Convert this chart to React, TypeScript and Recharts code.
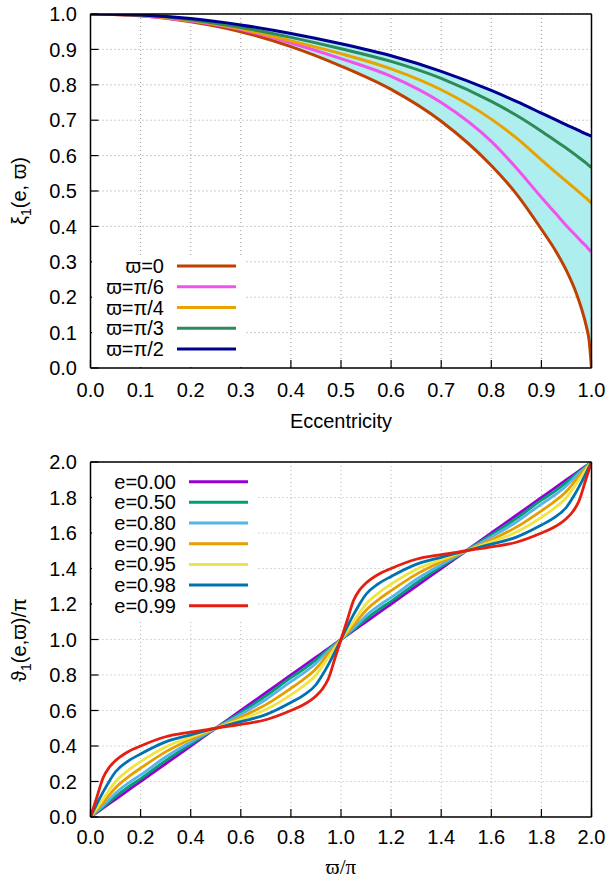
import React from "react";
import { ComposedChart, LineChart, Line, Area, XAxis, YAxis, CartesianGrid, Legend } from "recharts";

// ---- top panel: xi_1(e, varpi) vs eccentricity ----
const ecc = [0, 0.1, 0.2, 0.3, 0.4, 0.5, 0.6, 0.7, 0.8, 0.85, 0.9, 0.93, 0.95, 0.97, 0.98, 0.99, 0.995, 1.0];
const xiW0 = [1, 0.995, 0.978, 0.95, 0.908, 0.853, 0.787, 0.697, 0.572, 0.492, 0.392, 0.327, 0.275, 0.21, 0.168, 0.116, 0.08, 0];
const xiW6 = [1, 0.995, 0.98, 0.956, 0.918, 0.874, 0.824, 0.75, 0.64, 0.565, 0.482, 0.434, 0.402, 0.372, 0.357, 0.343, 0.335, 0.328];
const xiW4 = [1, 0.996, 0.982, 0.958, 0.924, 0.888, 0.845, 0.786, 0.703, 0.65, 0.588, 0.551, 0.527, 0.503, 0.491, 0.479, 0.472, 0.466];
const xiW3 = [1, 0.997, 0.984, 0.962, 0.934, 0.902, 0.866, 0.818, 0.753, 0.714, 0.669, 0.64, 0.621, 0.6, 0.589, 0.578, 0.572, 0.566];
const xiW2 = [1, 0.997, 0.987, 0.969, 0.945, 0.916, 0.882, 0.838, 0.784, 0.753, 0.72, 0.7, 0.687, 0.674, 0.667, 0.661, 0.658, 0.655];

const omegaKeys = ["w0", "w6", "w4", "w3", "w2"];
const omegaLabels = ["ϖ=0", "ϖ=π/6", "ϖ=π/4", "ϖ=π/3", "ϖ=π/2"];
const omegaColors = ["#c04000", "#f252ec", "#e9a200", "#2e8b57", "#000090"];

const eccTicks = [0, 0.1, 0.2, 0.3, 0.4, 0.5, 0.6, 0.7, 0.8, 0.9, 1.0];
const xiTicks = [0, 0.1, 0.2, 0.3, 0.4, 0.5, 0.6, 0.7, 0.8, 0.9, 1.0];

// ---- bottom panel: vartheta_1(e, varpi)/pi vs varpi/pi ----
const phase = [0, 0.025, 0.05, 0.075, 0.1, 0.15, 0.2, 0.3, 0.4, 0.5, 0.6, 0.7, 0.8, 0.85, 0.9, 0.925, 0.95, 0.975, 1.0,
  1.025, 1.05, 1.075, 1.1, 1.15, 1.2, 1.3, 1.4, 1.5, 1.6, 1.7, 1.8, 1.85, 1.9, 1.925, 1.95, 1.975, 2.0];
const thE000 = [0, 0.025, 0.05, 0.075, 0.1, 0.15, 0.2, 0.3, 0.4, 0.5, 0.6, 0.7, 0.8, 0.85, 0.9, 0.925, 0.95, 0.975, 1.0,
  1.025, 1.05, 1.075, 1.1, 1.15, 1.2, 1.3, 1.4, 1.5, 1.6, 1.7, 1.8, 1.85, 1.9, 1.925, 1.95, 1.975, 2.0];
const thE050 = [0, 0.028, 0.056, 0.085, 0.115, 0.168, 0.215, 0.318, 0.411, 0.5, 0.589, 0.682, 0.785, 0.832, 0.885, 0.915, 0.944, 0.972, 1.0,
  1.028, 1.056, 1.085, 1.115, 1.168, 1.215, 1.318, 1.411, 1.5, 1.589, 1.682, 1.785, 1.832, 1.885, 1.915, 1.944, 1.972, 2.0];
const thE080 = [0, 0.032, 0.064, 0.098, 0.134, 0.19, 0.237, 0.338, 0.422, 0.5, 0.578, 0.662, 0.763, 0.81, 0.866, 0.902, 0.936, 0.968, 1.0,
  1.032, 1.064, 1.098, 1.134, 1.19, 1.237, 1.338, 1.422, 1.5, 1.578, 1.662, 1.763, 1.81, 1.866, 1.902, 1.936, 1.968, 2.0];
const thE090 = [0, 0.04, 0.08, 0.123, 0.165, 0.225, 0.275, 0.367, 0.438, 0.5, 0.562, 0.633, 0.725, 0.775, 0.835, 0.877, 0.92, 0.96, 1.0,
  1.04, 1.08, 1.123, 1.165, 1.225, 1.275, 1.367, 1.438, 1.5, 1.562, 1.633, 1.725, 1.775, 1.835, 1.877, 1.92, 1.96, 2.0];
const thE095 = [0, 0.05, 0.1, 0.152, 0.2, 0.262, 0.312, 0.395, 0.45, 0.5, 0.55, 0.605, 0.688, 0.738, 0.8, 0.848, 0.9, 0.95, 1.0,
  1.05, 1.1, 1.152, 1.2, 1.262, 1.312, 1.395, 1.45, 1.5, 1.55, 1.605, 1.688, 1.738, 1.8, 1.848, 1.9, 1.95, 2.0];
const thE098 = [0, 0.072, 0.14, 0.202, 0.255, 0.315, 0.355, 0.423, 0.463, 0.5, 0.537, 0.577, 0.645, 0.685, 0.745, 0.798, 0.86, 0.928, 1.0,
  1.072, 1.14, 1.202, 1.255, 1.315, 1.355, 1.423, 1.463, 1.5, 1.537, 1.577, 1.645, 1.685, 1.745, 1.798, 1.86, 1.928, 2.0];
const thE099 = [0, 0.11, 0.22, 0.28, 0.318, 0.368, 0.4, 0.452, 0.478, 0.5, 0.522, 0.548, 0.6, 0.632, 0.682, 0.72, 0.78, 0.89, 1.0,
  1.11, 1.22, 1.28, 1.318, 1.368, 1.4, 1.452, 1.478, 1.5, 1.522, 1.548, 1.6, 1.632, 1.682, 1.72, 1.78, 1.89, 2.0];

const eKeys = ["e000", "e050", "e080", "e090", "e095", "e098", "e099"];
const eLabels = ["e=0.00", "e=0.50", "e=0.80", "e=0.90", "e=0.95", "e=0.98", "e=0.99"];
const eColors = ["#9400d3", "#009e73", "#56b4e9", "#e69f00", "#f0e442", "#0072b2", "#e51e10"];

const phaseTicks = [0, 0.2, 0.4, 0.6, 0.8, 1.0, 1.2, 1.4, 1.6, 1.8, 2.0];

const FONT = '"Liberation Sans", Arial, Helvetica, sans-serif';

const topRows = ecc.map((e, i) => ({
  e,
  w0: xiW0[i],
  w6: xiW6[i],
  w4: xiW4[i],
  w3: xiW3[i],
  w2: xiW2[i],
  band: [xiW0[i], xiW2[i]],
}));

const bottomRows = phase.map((p, i) => ({
  p,
  e000: thE000[i],
  e050: thE050[i],
  e080: thE080[i],
  e090: thE090[i],
  e095: thE095[i],
  e098: thE098[i],
  e099: thE099[i],
}));

function steps(from: number, to: number, step: number) {
  const out: number[] = [];
  const n = Math.round((to - from) / step);
  for (let i = 0; i <= n; i++) out.push(+(from + i * step).toFixed(4));
  return out;
}

const fmt = (v: number) => v.toFixed(1);
const frameLine = { stroke: "#000", strokeWidth: 1.5 };
const tickStroke = { stroke: "#000", strokeWidth: 1.2 };

// gnuplot-like box: inward major/minor ticks on all four sides.
// axes of size 0 are skipped by recharts, so every helper axis is 1px thick
function xAxes(dataKey: string, domain: [number, number], major: number[], minor: number[], tickMargin: number, label: React.ReactNode) {
  const base = { type: "number" as const, domain, allowDataOverflow: true, interval: 0 as const, dataKey, height: 1 };
  return [
    <XAxis key="xb" xAxisId={0} {...base} ticks={major} axisLine={frameLine} tickLine={tickStroke}
      tickSize={-8} tickMargin={tickMargin} tickFormatter={fmt} tick={{ fill: "#000", fontSize: 20 }}
      label={{ content: () => label }} />,
    <XAxis key="xbm" xAxisId="xbm" {...base} ticks={minor} axisLine={false} tickLine={tickStroke} tickSize={-4.5} tick={false} />,
    <XAxis key="xt" xAxisId="xt" orientation="top" {...base} ticks={major} axisLine={frameLine} tickLine={tickStroke} tickSize={-8} tick={false} />,
    <XAxis key="xtm" xAxisId="xtm" orientation="top" {...base} ticks={minor} axisLine={false} tickLine={tickStroke} tickSize={-4.5} tick={false} />,
  ];
}

function yAxes(domain: [number, number], major: number[], minor: number[], label: React.ReactNode) {
  const base = { type: "number" as const, domain, allowDataOverflow: true, interval: 0 as const, width: 1 };
  return [
    <YAxis key="yl" yAxisId={0} {...base} ticks={major} axisLine={frameLine} tickLine={tickStroke} tickSize={-8}
      tickMargin={21.5} tickFormatter={fmt} tick={{ fill: "#000", fontSize: 20 }} label={{ content: () => label }} />,
    <YAxis key="ylm" yAxisId="ylm" {...base} ticks={minor} axisLine={false} tickLine={tickStroke} tickSize={-4.5} tick={false} />,
    <YAxis key="yr" yAxisId="yr" orientation="right" {...base} ticks={major} axisLine={frameLine} tickLine={tickStroke} tickSize={-8} tick={false} />,
    <YAxis key="yrm" yAxisId="yrm" orientation="right" {...base} ticks={minor} axisLine={false} tickLine={tickStroke} tickSize={-4.5} tick={false} />,
  ];
}

function LegendBox({ labels, colors, width, height, textRight, lineFrom, lineTo, firstRow, rowGap }: {
  labels: string[]; colors: string[]; width: number; height: number; textRight: number;
  lineFrom: number; lineTo: number; firstRow: number; rowGap: number;
}) {
  return (
    <svg width={width} height={height} style={{ display: "block" }}>
      <rect x={0} y={0} width={width} height={height} fill="#fff" />
      {labels.map((lab, i) => {
        const cy = firstRow + i * rowGap;
        return (
          <g key={lab}>
            <text x={textRight} y={cy + 7} textAnchor="end" fontSize={20} fill="#000" fontFamily={FONT}>{lab}</text>
            <line x1={lineFrom} x2={lineTo} y1={cy} y2={cy} stroke={colors[i]} strokeWidth={3} />
          </g>
        );
      })}
    </svg>
  );
}

const topYLabel = (
  <text x={26} y={191} transform="rotate(-90 26 191)" textAnchor="middle" fontSize={20} fill="#000">
    ξ<tspan fontSize={14} dy={5}>1</tspan><tspan dy={-5}>(e, ϖ)</tspan>
  </text>
);
const topXLabel = <text x={341} y={428} textAnchor="middle" fontSize={20} fill="#000">Eccentricity</text>;

const bottomYLabel = (
  <text x={26} y={200} transform="rotate(-90 26 200)" textAnchor="middle" fontSize={20} fill="#000">
    ϑ<tspan fontSize={14} dy={5}>1</tspan><tspan dy={-5}>(e,ϖ)/π</tspan>
  </text>
);
const bottomXLabel = (
  <text x={341} y={434} textAnchor="middle" fontSize={21} fill="#000" fontFamily='"Liberation Serif", "DejaVu Serif", serif'>ϖ/π</text>
);

export default function App() {
  return (
    <div style={{ position: "absolute", left: 0, top: 0, width: 607, height: 881, background: "#fff", fontFamily: FONT }}>
      <ComposedChart width={607} height={440} data={topRows} margin={{ top: 12, right: 13.5, bottom: 70, left: 88.5 }}>
        <CartesianGrid stroke="#9a9a9a" strokeDasharray="1 3" strokeWidth={1} />
        {xAxes("e", [0, 1], eccTicks, steps(0, 1, 0.02), 22.5, topXLabel)}
        {yAxes([0, 1], xiTicks, steps(0, 1, 0.02), topYLabel)}
        <Area type="monotone" dataKey="band" fill="#afeeee" fillOpacity={1} stroke="none" isAnimationActive={false} />
        {omegaKeys.map((k, i) => (
          <Line key={k} type="monotone" dataKey={k} stroke={omegaColors[i]} strokeWidth={3} dot={false} isAnimationActive={false} />
        ))}
        <Legend
          layout="vertical"
          align="center"
          verticalAlign="middle"
          wrapperStyle={{ left: 92, top: 255, width: 154, height: 112 }}
          content={() => (
            <LegendBox labels={omegaLabels} colors={omegaColors} width={154} height={112} textRight={72}
              lineFrom={85} lineTo={144} firstRow={11} rowGap={20.75} />
          )}
        />
      </ComposedChart>

      <LineChart width={607} height={441} data={bottomRows} margin={{ top: 20, right: 13.5, bottom: 62, left: 88.5 }}
        style={{ position: "absolute", left: 0, top: 440 }}>
        <CartesianGrid stroke="#b0b0b0" strokeDasharray="1 3" strokeWidth={1} />
        {xAxes("p", [0, 2], phaseTicks, steps(0, 2, 0.1), 20.8, bottomXLabel)}
        {yAxes([0, 2], phaseTicks, steps(0, 2, 0.1), bottomYLabel)}
        {eKeys.map((k, i) => (
          <Line key={k} type="monotone" dataKey={k} stroke={eColors[i]} strokeWidth={2.8} dot={false} isAnimationActive={false} />
        ))}
        <Legend
          layout="vertical"
          align="center"
          verticalAlign="middle"
          wrapperStyle={{ left: 92, top: 23, width: 166, height: 156 }}
          content={() => (
            <LegendBox labels={eLabels} colors={eColors} width={166} height={156} textRight={84}
              lineFrom={97} lineTo={156} firstRow={18.7} rowGap={20.67} />
          )}
        />
      </LineChart>
    </div>
  );
}
